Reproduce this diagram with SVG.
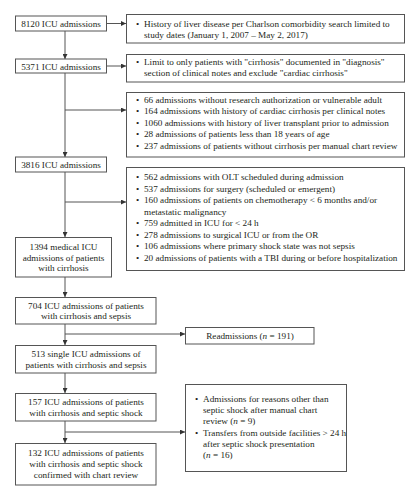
<svg xmlns="http://www.w3.org/2000/svg" width="419" height="500" viewBox="0 0 419 500">
<style>
rect{fill:#fff;stroke:#555;stroke-width:1}
text{font-family:"Liberation Serif","Times New Roman",serif;font-size:9.2px;fill:#231f20}
.c{text-anchor:middle}
.ln{stroke:#555;stroke-width:1;fill:none}
</style>
<defs>
<marker id="ah" viewBox="0 0 10 10" refX="10" refY="5" markerWidth="5" markerHeight="5" orient="auto" markerUnits="userSpaceOnUse"><path d="M0,0L10,5L0,10z" fill="#333"/></marker>
</defs>
<rect width="419" height="500" style="fill:#fff;stroke:none"/>
<g id="connectors">
<path class="ln" d="M106,23.5H126" marker-end="url(#ah)"/>
<path class="ln" d="M65,31V59" marker-end="url(#ah)"/>
<path class="ln" d="M106,66H126" marker-end="url(#ah)"/>
<path class="ln" d="M65,73V157" marker-end="url(#ah)"/>
<path class="ln" d="M65,110H126" marker-end="url(#ah)"/>
<path class="ln" d="M65,172V237" marker-end="url(#ah)"/>
<path class="ln" d="M65,202H126" marker-end="url(#ah)"/>
<path class="ln" d="M65,277V297" marker-end="url(#ah)"/>
<path class="ln" d="M65,324V345" marker-end="url(#ah)"/>
<path class="ln" d="M65,334H185" marker-end="url(#ah)"/>
<path class="ln" d="M65,373V393" marker-end="url(#ah)"/>
<path class="ln" d="M65,421V443" marker-end="url(#ah)"/>
<path class="ln" d="M65,432H185" marker-end="url(#ah)"/>
</g>
<g id="n8120"><rect x="15.5" y="16" width="91" height="15"/><text class="c" x="61" y="27">8120 ICU admissions</text></g>
<g id="exA"><rect x="126.5" y="14.5" width="278" height="28.5"/>
<text x="136" y="27">•</text><text x="144" y="27">History of liver disease per Charlson comorbidity search limited to</text>
<text x="144" y="38">study dates (January 1, 2007 – May 2, 2017)</text></g>
<g id="n5371"><rect x="15.5" y="59" width="91" height="14"/><text class="c" x="61" y="69.5">5371 ICU admissions</text></g>
<g id="exB"><rect x="126.5" y="54.5" width="278" height="27.5"/>
<text x="136" y="65">•</text><text x="144" y="65">Limit to only patients with "cirrhosis" documented in "diagnosis"</text>
<text x="144" y="75.5">section of clinical notes and exclude "cardiac cirrhosis"</text></g>
<g id="exC"><rect x="126.5" y="92.5" width="278" height="64.5"/>
<text x="136" y="102.5">•</text><text x="144" y="102.5">66 admissions without research authorization or vulnerable adult</text>
<text x="136" y="114">•</text><text x="144" y="114">164 admissions with history of cardiac cirrhosis per clinical notes</text>
<text x="136" y="125.5">•</text><text x="144" y="125.5">1060 admissions with history of liver transplant prior to admission</text>
<text x="136" y="137">•</text><text x="144" y="137">28 admissions of patients less than 18 years of age</text>
<text x="136" y="148.5">•</text><text x="144" y="148.5">237 admissions of patients without cirrhosis per manual chart review</text></g>
<g id="n3816"><rect x="15.5" y="157" width="91" height="15"/><text class="c" x="61" y="168">3816 ICU admissions</text></g>
<g id="exD"><rect x="126.5" y="167.5" width="278" height="103"/>
<text x="136" y="180">•</text><text x="144" y="180">562 admissions with OLT scheduled during admission</text>
<text x="136" y="191.5">•</text><text x="144" y="191.5">537 admissions for surgery (scheduled or emergent)</text>
<text x="136" y="203">•</text><text x="144" y="203">160 admissions of patients on chemotherapy &lt; 6 months and/or</text>
<text x="144" y="214.5">metastatic malignancy</text>
<text x="136" y="226">•</text><text x="144" y="226">759 admitted in ICU for &lt; 24 h</text>
<text x="136" y="237.5">•</text><text x="144" y="237.5">278 admissions to surgical ICU or from the OR</text>
<text x="136" y="249">•</text><text x="144" y="249">106 admissions where primary shock state was not sepsis</text>
<text x="136" y="260.5">•</text><text x="144" y="260.5">20 admissions of patients with a TBI during or before hospitalization</text></g>
<g id="n1394"><rect x="15.5" y="237.5" width="96" height="39.5"/>
<text class="c" x="63.5" y="250">1394 medical ICU</text>
<text class="c" x="63.5" y="260.5">admissions of patients</text>
<text class="c" x="63.5" y="271">with cirrhosis</text></g>
<g id="n704"><rect x="15.5" y="297.5" width="140.5" height="26.5"/>
<text class="c" x="86" y="308.5">704 ICU admissions of patients</text>
<text class="c" x="86" y="319">with cirrhosis and sepsis</text></g>
<g id="readm"><rect x="185.5" y="327.5" width="128.5" height="16.5"/>
<text class="c" x="250" y="339">Readmissions (<tspan font-style="italic">n</tspan> = 191)</text></g>
<g id="n513"><rect x="15.5" y="345.5" width="140.5" height="27.5"/>
<text class="c" x="86" y="357">513 single ICU admissions of</text>
<text class="c" x="86" y="367.5">patients with cirrhosis and sepsis</text></g>
<g id="n157"><rect x="15.5" y="393.5" width="140.5" height="27.5"/>
<text class="c" x="86" y="405">157 ICU admissions of patients</text>
<text class="c" x="86" y="415.5">with cirrhosis and septic shock</text></g>
<g id="exE"><rect x="185.5" y="384.5" width="161" height="87"/>
<text x="195" y="402">•</text><text x="203" y="402">Admissions for reasons other than</text>
<text x="203" y="413">septic shock after manual chart</text>
<text x="203" y="424">review (<tspan font-style="italic">n</tspan> = 9)</text>
<text x="195" y="436">•</text><text x="203" y="436">Transfers from outside facilities &gt; 24 h</text>
<text x="203" y="447">after septic shock presentation</text>
<text x="203" y="458">(<tspan font-style="italic">n</tspan> = 16)</text></g>
<g id="n132"><rect x="15.5" y="443.5" width="140.5" height="41.5"/>
<text class="c" x="86" y="455.5">132 ICU admissions of patients</text>
<text class="c" x="86" y="466.5">with cirrhosis and septic shock</text>
<text class="c" x="86" y="477.5">confirmed with chart review</text></g>
</svg>
